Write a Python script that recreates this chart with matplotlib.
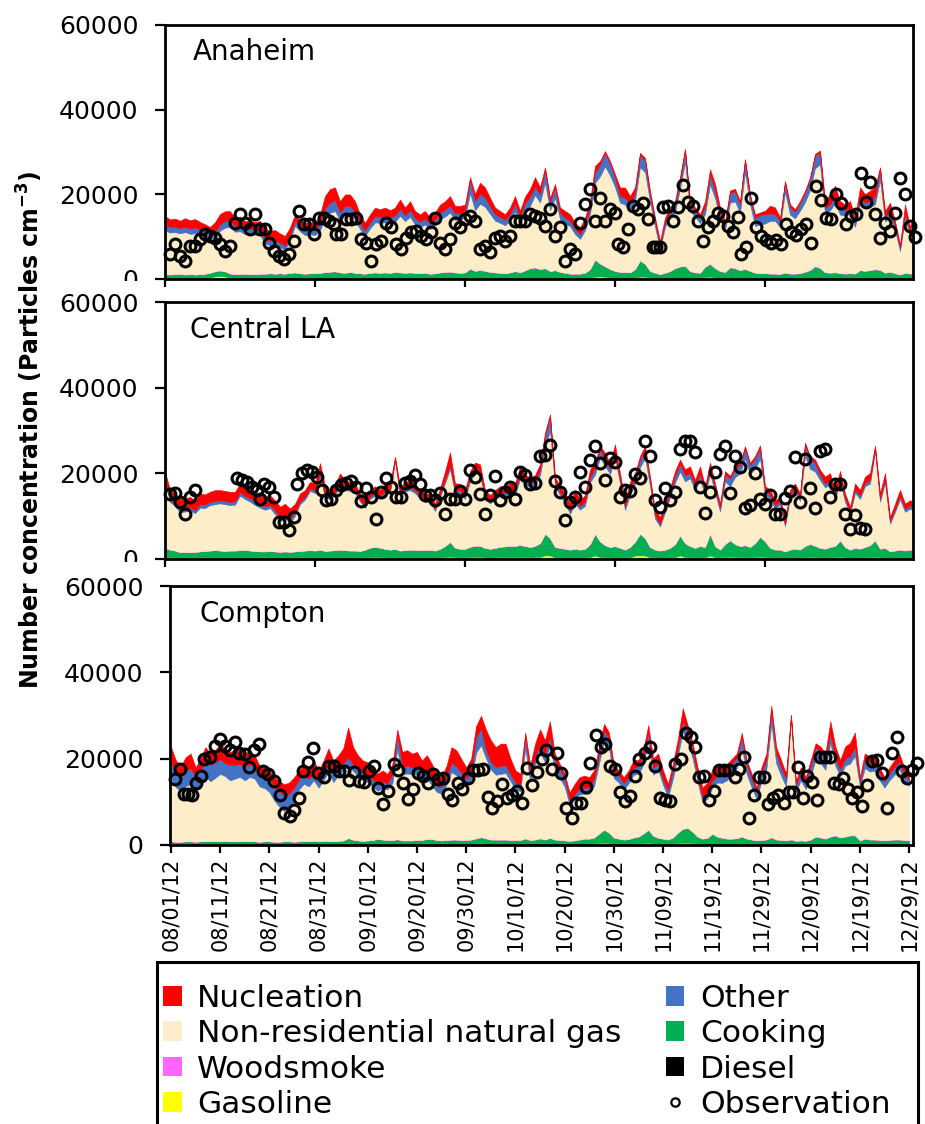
import numpy as np
import matplotlib
matplotlib.use("Agg")
import matplotlib.pyplot as plt
from matplotlib.patches import Patch, Rectangle
from matplotlib.lines import Line2D

# ---------------------------------------------------------------
# Daily source contributions (thousand particles cm^-3),
# day 0 = 08/01/12 ... day 150 = 12/29/12
# ---------------------------------------------------------------
tick_labels = ["08/01/12", "08/11/12", "08/21/12", "08/31/12", "09/10/12", "09/20/12",
               "09/30/12", "10/10/12", "10/20/12", "10/30/12", "11/09/12", "11/19/12",
               "11/29/12", "12/09/12", "12/19/12", "12/29/12"]
tick_days = [0, 10, 20, 30, 40, 50, 60, 70, 80, 90, 100, 110, 120, 130, 140, 150]

series_names = ["Nucleation", "Non-residential natural gas", "Woodsmoke", "Gasoline",
                "Other", "Cooking", "Diesel"]

# ----------------------------- Anaheim -----------------------------
anaheim_nucleation = [
    2.0, 1.8, 2.0, 1.7, 2.1, 1.9, 2.0, 1.8, 1.9, 1.6,
    2.2, 2.4, 2.3, 2.2, 2.0, 2.1, 1.9, 2.0, 1.8, 2.0,
    2.2, 2.3, 2.4, 2.2, 2.3, 1.8, 1.5, 1.6, 1.7, 1.8,
    1.7, 2.2, 3.0, 3.2, 3.0, 2.6, 2.8, 2.7, 2.5, 2.0,
    1.8, 1.9, 2.0, 1.8, 2.0, 1.7, 1.9, 2.2, 1.8, 2.1,
    1.8, 1.7, 1.8, 1.5, 1.7, 1.9, 2.0, 2.2, 1.8, 1.7,
    1.5, 0.6, 1.6, 2.6, 2.4, 2.0, 1.6, 1.4, 1.3, 1.6,
    1.8, 1.4, 1.6, 1.8, 2.2, 1.6, 0.6, 1.0, 0.8, 1.2,
    1.6, 1.5, 1.5, 1.6, 1.8, 1.5, 1.6, 0.8, 0.4, 0.6,
    0.8, 2.0, 2.4, 1.8, 1.4, 0.4, 0.6, 1.0, 1.0, 1.2,
    1.0, 1.2, 1.0, 0.6, 0.3, 0.8, 0.8, 0.8, 1.4, 1.2,
    1.6, 1.4, 1.0, 0.5, 0.6, 0.8, 0.3, 0.6, 0.8, 0.6,
    0.8, 1.8, 1.6, 0.8, 0.4, 0.6, 0.6, 0.5, 0.5, 0.4,
    0.4, 0.5, 1.6, 2.4, 2.6, 1.8, 1.4, 1.6, 1.0, 2.2,
    2.0, 2.4, 2.2, 0.4, 1.4, 2.0, 1.2, 0.8, 2.0, 1.0, 1.8]
anaheim_other = [
    1.4, 1.3, 1.2, 1.3, 1.2, 1.3, 1.4, 1.2, 1.1, 1.2,
    1.4, 1.5, 1.6, 1.5, 1.3, 1.4, 1.2, 1.3, 1.2, 1.3,
    1.2, 1.1, 1.2, 1.1, 1.0, 1.1, 1.2, 1.1, 1.2, 1.1,
    1.2, 1.6, 2.2, 2.4, 2.6, 2.0, 2.2, 2.1, 1.8, 1.5,
    1.3, 1.4, 1.5, 1.4, 1.5, 1.4, 1.5, 1.6, 1.4, 1.6,
    1.4, 1.3, 1.4, 1.2, 1.3, 1.5, 1.6, 1.7, 1.5, 1.5,
    1.6, 3.2, 2.2, 2.4, 2.2, 1.8, 1.5, 1.4, 1.3, 1.5,
    1.8, 1.5, 2.0, 2.2, 2.0, 2.0, 3.0, 2.0, 2.4, 1.6,
    1.4, 1.3, 1.2, 1.1, 1.2, 1.6, 2.4, 2.8, 3.2, 2.8,
    2.2, 1.6, 1.6, 1.5, 1.8, 3.0, 2.8, 1.6, 1.2, 0.8,
    1.2, 1.4, 1.6, 2.2, 2.8, 1.5, 1.4, 1.3, 1.6, 2.4,
    1.8, 1.4, 1.2, 2.4, 2.4, 2.0, 2.8, 1.8, 2.0, 2.2,
    2.2, 1.8, 1.6, 1.4, 2.2, 1.8, 1.6, 1.8, 2.2, 2.6,
    3.0, 2.8, 1.4, 1.4, 1.6, 1.4, 1.3, 1.4, 1.2, 1.6,
    1.4, 1.5, 1.8, 2.6, 1.2, 1.2, 1.0, 0.8, 1.2, 1.0, 1.2]
anaheim_natgas = [
    10.3, 9.9, 9.9, 9.5, 10.0, 9.5, 9.7, 9.3, 8.7, 8.0,
    8.0, 9.4, 10.3, 11.0, 10.0, 10.1, 9.3, 9.4, 9.3, 9.1,
    7.1, 6.6, 6.7, 6.1, 5.6, 7.8, 11.0, 9.9, 9.1, 9.2,
    9.0, 10.0, 12.8, 13.9, 14.2, 12.2, 13.5, 13.5, 12.6, 10.4,
    8.9, 10.5, 11.8, 11.8, 11.8, 11.7, 11.8, 13.4, 12.2, 13.1,
    11.4, 10.9, 11.4, 10.5, 11.3, 12.6, 13.1, 13.9, 12.4, 12.6,
    12.9, 17.8, 14.3, 15.6, 15.1, 13.7, 12.2, 11.8, 11.3, 12.2,
    14.1, 11.6, 13.8, 14.7, 17.1, 15.7, 20.2, 14.3, 17.1, 12.4,
    11.6, 11.2, 9.3, 8.2, 10.0, 13.0, 18.1, 20.6, 23.6, 22.1,
    19.8, 16.3, 15.9, 14.7, 16.1, 22.0, 21.6, 16.3, 10.8, 5.8,
    10.8, 12.4, 13.3, 18.3, 24.5, 14.2, 13.1, 11.7, 12.4, 18.7,
    16.5, 12.2, 9.8, 15.2, 15.7, 13.5, 22.8, 15.7, 11.0, 11.5,
    11.7, 12.4, 12.4, 11.1, 19.0, 13.9, 13.0, 14.7, 16.4, 18.8,
    23.1, 24.4, 13.8, 14.7, 16.2, 13.8, 13.6, 14.0, 11.0, 15.7,
    14.7, 14.8, 15.3, 21.2, 12.0, 13.1, 10.1, 5.5, 12.9, 8.9, 13.1]
anaheim_cooking = [
    0.9, 0.8, 0.9, 1.0, 0.8, 0.9, 0.8, 0.9, 1.0, 1.1,
    1.2, 1.3, 1.2, 1.0, 0.9, 0.9, 1.0, 0.9, 0.9, 1.0,
    1.0, 1.1, 1.0, 1.1, 1.0, 1.2, 1.3, 1.1, 1.0, 1.1,
    1.1, 1.2, 1.3, 1.4, 1.5, 1.3, 1.2, 1.4, 1.2, 1.1,
    1.0, 1.2, 1.3, 1.2, 1.3, 1.2, 1.4, 1.3, 1.2, 1.3,
    1.2, 1.1, 1.2, 1.0, 1.1, 1.3, 1.4, 1.5, 1.3, 1.2,
    1.3, 2.0, 1.6, 1.8, 1.6, 1.4, 1.3, 1.2, 1.1, 1.3,
    1.6, 1.3, 1.8, 2.2, 2.4, 2.0, 2.2, 1.6, 1.8, 1.4,
    1.2, 1.0, 1.0, 1.0, 1.2, 2.0, 4.0, 3.0, 2.4, 2.0,
    1.6, 1.4, 1.4, 1.3, 2.0, 3.8, 3.0, 1.6, 1.2, 0.9,
    1.2, 1.6, 2.2, 2.6, 2.7, 1.6, 1.3, 1.2, 2.4, 3.0,
    2.2, 1.6, 1.4, 2.4, 2.2, 1.8, 2.0, 1.6, 1.2, 1.1,
    1.1, 1.0, 1.0, 0.9, 1.2, 1.0, 1.0, 1.1, 1.4, 1.8,
    2.6, 2.2, 1.3, 1.2, 1.3, 1.1, 1.0, 1.1, 1.0, 1.8,
    1.6, 1.8, 2.0, 1.8, 1.2, 1.4, 1.1, 0.8, 1.2, 1.0, 1.2]
anaheim_gasoline = [
    .15, .15, .15, .15, .15, .15, .15, .15, .15, .25,
    .50, .60, .50, .20, .15, .15, .15, .15, .15, .15,
    .15, .15, .15, .15, .15, .15, .15, .15, .15, .15,
    .15, .15, .20, .20, .20, .15, .15, .15, .15, .15,
    .15, .15, .15, .15, .15, .15, .15, .15, .15, .15,
    .15, .15, .15, .15, .15, .15, .15, .15, .15, .15,
    .15, .30, .20, .20, .20, .15, .15, .15, .15, .15,
    .15, .15, .15, .20, .20, .20, .20, .15, .15, .15,
    .15, .15, .15, .15, .15, .20, .40, .45, .40, .20,
    .15, .15, .15, .15, .20, .40, .40, .15, .15, .15,
    .15, .15, .20, .20, .20, .15, .15, .15, .35, .40,
    .20, .15, .15, .20, .20, .15, .20, .15, .15, .15,
    .15, .15, .15, .15, .15, .15, .15, .15, .15, .15,
    .20, .20, .15, .15, .15, .15, .15, .15, .15, .15,
    .15, .15, .15, .15, .15, .15, .15, .15, .15, .15, .15]
anaheim_diesel = [
    .10, .10, .10, .10, .10, .10, .10, .10, .10, .12,
    .12, .12, .10, .10, .10, .10, .10, .10, .10, .10,
    .10, .10, .10, .10, .10, .10, .10, .10, .10, .10,
    .10, .10, .12, .12, .12, .10, .10, .10, .10, .10,
    .10, .10, .10, .10, .10, .10, .10, .10, .10, .10,
    .10, .10, .10, .10, .10, .10, .10, .10, .10, .10,
    .10, .14, .12, .12, .12, .10, .10, .10, .10, .10,
    .10, .10, .10, .12, .12, .12, .14, .10, .12, .10,
    .10, .10, .10, .10, .10, .12, .16, .16, .16, .12,
    .12, .10, .10, .10, .12, .16, .16, .12, .10, .08,
    .10, .10, .12, .14, .16, .10, .10, .10, .14, .16,
    .14, .10, .10, .14, .14, .12, .14, .12, .10, .10,
    .10, .10, .10, .10, .12, .10, .10, .10, .12, .14,
    .16, .16, .10, .10, .10, .10, .10, .10, .10, .12,
    .12, .12, .12, .14, .10, .10, .10, .08, .10, .10, .10]
anaheim_woodsmoke = [
    .02, .02, .02, .02, .02, .02, .02, .02, .02, .02,
    .02, .02, .02, .02, .02, .02, .02, .02, .02, .02,
    .02, .02, .02, .02, .02, .02, .02, .02, .02, .02,
    .02, .02, .02, .02, .02, .02, .02, .02, .02, .02,
    .02, .02, .02, .02, .02, .02, .02, .02, .02, .02,
    .02, .02, .02, .02, .02, .02, .02, .02, .02, .02,
    .03, .03, .03, .03, .03, .03, .03, .03, .03, .03,
    .04, .04, .04, .04, .04, .04, .04, .04, .04, .04,
    .04, .04, .04, .04, .04, .05, .06, .06, .06, .05,
    .05, .05, .05, .05, .05, .06, .06, .05, .05, .04,
    .05, .05, .06, .06, .07, .05, .05, .05, .06, .07,
    .06, .06, .05, .07, .07, .06, .08, .07, .06, .06,
    .06, .07, .07, .06, .08, .07, .07, .07, .08, .09,
    .10, .10, .07, .08, .08, .07, .07, .07, .06, .08,
    .08, .08, .08, .10, .07, .07, .06, .05, .07, .06, .07]

anaheim_obs_day = [
    1, 2, 3, 4, 5, 6, 7, 8, 9, 10, 11, 12, 13, 14, 15, 16, 17, 18, 19, 20,
    20.7, 21.7, 22.7, 23.7, 24.7, 25.7, 26.7, 27.7, 28.7, 29.7, 30.7, 31.7, 32.7, 33.7,
    34.3, 35.3, 36.3, 37.3, 38.3, 39.3, 40.3, 41.3, 42.3, 43.3, 44.3, 45.3, 46.3, 47.3,
    48.3, 49.3, 50.3, 51.3, 52.3, 53.3, 54, 55, 56, 57, 58, 59, 60, 61, 62, 63, 64, 65,
    66, 67, 68, 69, 70, 71, 72,
    73, 74, 75, 76, 77, 78, 79, 80, 81, 82, 83, 84, 85, 86, 87, 88, 89, 90,
    90.6, 91.6, 92.6, 93.6, 94.6, 95.6, 96.6, 97.6, 98.3, 99.0, 99.6,
    100.6, 101.6, 102.6, 103.6, 104.6, 105.6, 106.6, 107.6, 108.6, 109.6, 110.6, 111.6,
    112.6, 113.6, 114.6, 115.3, 116.3, 117.3, 118.3, 119.3, 120.3, 121.3, 122.3, 123.3,
    124.3, 125.3, 126.3, 127.3, 128.3, 129.3, 130.3, 131.3, 132.3, 133.3, 134.3, 135.3,
    136.3, 137.3, 138.3, 139.3, 140.3, 141, 142, 143, 144, 145, 146, 147, 148, 149, 150]
anaheim_obs = [
    5.9, 8.2, 5.5, 4.3, 7.8, 7.8, 9.4, 10.6, 10.2, 9.8, 8.2, 6.7, 7.8, 13.3, 15.3, 13.3,
    11.8, 15.3, 11.8, 11.8, 8.6, 6.7, 5.5, 4.7, 5.9, 9.0, 16.1, 12.9, 12.9, 10.6, 14.5,
    14.5, 13.7, 12.9, 10.6, 10.6, 14.1, 14.1, 14.4, 9.4, 8.6, 4.3, 8.2, 9.0, 13.3, 12.2,
    8.2, 7.1, 9.8, 11.0, 11.4, 10.2, 9.4, 11.0, 14.5, 8.6, 7.1, 9.4, 13.3, 12.2, 14.1,
    14.9, 13.7, 7.1, 7.8, 6.3, 9.8, 10.2, 9.0, 10.2, 13.7, 13.7, 13.7,
    15.3, 14.9, 14.5, 12.5, 16.5, 10.2, 12.2, 4.3, 7.1, 6.0, 13.3, 17.6, 21.2, 13.7,
    19.2, 13.6, 16.5, 15.5, 8.2, 7.5, 11.8, 17.3, 16.5, 18.0, 14.1, 7.5, 7.5, 7.5, 16.9,
    17.3, 13.7, 17.0, 22.2, 18.3, 17.3, 13.6, 9.0, 12.2, 13.7, 15.5, 14.9, 12.5, 11.2,
    14.7, 6.0, 7.5, 19.2, 12.3, 10.2, 9.2, 8.6, 9.2, 8.2, 13.1, 11.2, 10.4, 11.8, 12.9,
    8.6, 22.0, 18.6, 14.4, 14.1, 20.0, 18.0, 12.9, 14.9, 15.3, 25.1, 18.3, 22.9, 15.3,
    9.6, 13.3, 11.4, 15.5, 23.8, 20.0, 12.5, 10.0]

# ----------------------------- Central LA -----------------------------
centralla_nucleation = [
    1.5, 2.0, 2.2, 2.4, 2.3, 2.4, 2.3, 2.5, 2.4, 2.4,
    2.5, 2.4, 2.3, 2.4, 2.2, 2.0, 2.2, 2.3, 2.4, 2.2,
    2.2, 2.3, 2.4, 2.5, 2.6, 2.4, 2.0, 1.8, 1.6, 1.5,
    1.6, 2.6, 1.8, 1.6, 1.8, 2.0, 1.6, 1.5, 1.5, 1.4,
    1.3, 1.5, 1.6, 1.5, 1.6, 1.5, 0.5, 1.4, 1.5, 1.6,
    1.5, 1.4, 1.4, 1.5, 1.2, 1.4, 2.0, 3.0, 1.6, 1.5,
    1.4, 1.2, 1.6, 1.8, 1.5, 1.3, 1.5, 1.6, 1.5, 1.6,
    1.6, 2.0, 1.5, 1.4, 1.5, 1.4, 0.8, 0.6, 1.2, 1.3,
    1.4, 1.6, 2.2, 1.4, 1.6, 1.8, 1.2, 0.8, 1.6, 1.4,
    2.4, 1.4, 1.4, 1.8, 1.2, 0.8, 0.8, 1.0, 1.2, 1.6,
    1.2, 1.0, 1.2, 1.0, 1.4, 1.6, 1.4, 1.8, 1.2, 1.0,
    1.2, 1.0, 0.8, 0.6, 0.6, 0.5, 0.5, 0.6, 0.6, 0.5,
    1.0, 1.2, 1.2, 1.0, 0.8, 1.0, 1.2, 1.0, 0.5, 0.6,
    0.8, 1.2, 1.6, 1.8, 1.4, 1.6, 1.2, 1.0, 1.4, 1.3,
    1.4, 1.6, 0.5, 1.2, 1.4, 1.0, 1.2, 1.4, 1.2, 1.2, 1.2]
centralla_other = [
    0.8, 0.8, 0.7, 0.8, 0.7, 0.8, 0.7, 0.8, 0.8, 0.7,
    0.8, 0.7, 0.8, 0.7, 0.8, 0.8, 0.7, 0.8, 0.7, 0.7,
    0.8, 0.7, 0.8, 0.9, 0.8, 0.9, 0.8, 0.7, 0.6, 0.6,
    0.6, 0.8, 0.6, 0.6, 0.6, 0.8, 0.7, 0.6, 0.6, 0.5,
    0.5, 0.6, 0.6, 0.6, 0.7, 0.6, 0.6, 0.6, 0.7, 0.7,
    0.7, 0.6, 0.6, 0.6, 0.5, 0.6, 0.8, 0.9, 0.7, 0.7,
    0.7, 1.2, 0.9, 0.8, 0.7, 0.6, 0.7, 0.7, 0.7, 0.8,
    0.8, 1.0, 0.9, 0.8, 0.9, 1.2, 2.8, 3.2, 1.0, 0.8,
    0.8, 0.8, 1.0, 0.8, 0.9, 1.2, 1.6, 2.0, 1.4, 1.2,
    0.8, 1.0, 0.9, 1.2, 1.4, 1.8, 2.0, 1.2, 0.8, 0.6,
    0.8, 1.2, 1.5, 1.8, 1.4, 1.2, 1.0, 1.2, 1.0, 1.6,
    1.0, 0.8, 1.6, 1.8, 2.0, 2.0, 2.4, 2.0, 2.4, 2.6,
    1.0, 0.8, 0.8, 0.8, 0.6, 0.8, 0.9, 0.8, 2.6, 2.4,
    2.0, 1.2, 0.9, 0.9, 0.8, 0.9, 0.8, 0.7, 0.8, 0.8,
    0.8, 0.9, 0.8, 0.8, 0.9, 0.6, 0.7, 0.8, 0.7, 0.8, 0.7]
centralla_natgas = [
    15.5, 11.1, 10.4, 9.3, 9.4, 9.7, 9.0, 10.2, 10.0, 10.6,
    10.7, 11.0, 10.9, 10.6, 10.7, 12.7, 11.8, 11.4, 10.7, 10.2,
    9.7, 10.0, 8.7, 7.1, 7.7, 6.8, 8.3, 10.9, 11.9, 13.8,
    13.4, 16.8, 12.6, 11.9, 12.8, 15.0, 14.0, 13.9, 13.5, 11.5,
    9.7, 11.4, 11.9, 11.4, 12.9, 13.3, 20.4, 12.9, 13.7, 13.9,
    13.2, 12.0, 11.2, 11.0, 9.2, 12.1, 14.6, 17.0, 12.7, 13.0,
    11.6, 15.2, 16.9, 16.4, 11.3, 10.6, 11.3, 11.8, 11.8, 12.2,
    12.1, 15.3, 14.2, 14.0, 14.1, 15.8, 20.0, 25.1, 14.2, 12.2,
    10.7, 8.3, 10.5, 9.3, 10.0, 14.4, 13.8, 19.5, 18.5, 17.0,
    20.5, 15.0, 9.2, 12.2, 13.4, 15.5, 18.7, 14.2, 7.2, 5.6,
    8.7, 11.7, 14.3, 14.9, 14.4, 15.8, 13.4, 15.6, 11.9, 14.0,
    12.4, 8.9, 14.6, 12.6, 15.6, 16.9, 20.2, 17.0, 17.3, 18.2,
    10.9, 11.5, 9.5, 10.5, 5.8, 12.1, 13.1, 11.3, 21.0, 17.5,
    17.3, 15.8, 14.3, 14.5, 10.9, 13.7, 10.5, 8.3, 12.8, 11.6,
    14.2, 14.3, 20.8, 10.9, 15.1, 6.4, 9.0, 11.7, 9.0, 9.5, 9.1]
centralla_cooking = [
    2.2, 1.8, 1.6, 1.2, 1.3, 1.2, 1.3, 1.4, 1.5, 1.6,
    1.7, 1.6, 1.5, 1.6, 1.6, 1.7, 1.8, 1.6, 1.5, 1.4,
    1.4, 1.5, 1.4, 1.3, 1.4, 1.3, 1.4, 1.5, 1.6, 1.7,
    1.6, 1.8, 1.5, 1.6, 1.7, 1.8, 1.7, 1.6, 1.6, 1.5,
    1.8, 2.2, 2.4, 2.2, 2.0, 1.8, 2.0, 1.6, 1.7, 1.8,
    1.8, 1.7, 1.7, 1.8, 1.6, 2.0, 2.6, 3.4, 2.2, 2.0,
    2.0, 2.4, 2.6, 2.6, 2.2, 2.0, 2.2, 2.4, 2.5, 2.6,
    2.6, 2.8, 2.6, 2.4, 2.6, 3.2, 5.0, 4.0, 2.4, 2.2,
    2.0, 1.8, 2.0, 1.8, 2.0, 3.0, 5.0, 3.6, 2.8, 2.4,
    2.6, 2.2, 1.8, 2.4, 3.2, 5.0, 4.0, 2.4, 1.8, 1.6,
    1.8, 2.2, 3.0, 4.6, 3.2, 2.6, 2.2, 2.6, 2.4, 5.0,
    2.6, 1.8, 3.0, 3.8, 3.0, 2.6, 2.8, 2.4, 3.2, 4.6,
    3.6, 2.2, 1.8, 1.8, 1.4, 1.8, 2.0, 1.8, 2.6, 3.0,
    2.6, 2.2, 2.0, 2.4, 2.6, 3.8, 2.4, 1.8, 2.2, 2.0,
    2.4, 2.8, 3.8, 2.0, 2.2, 1.4, 1.6, 1.8, 1.6, 1.8, 1.6]
centralla_gasoline = [
    .25, .25, .25, .25, .25, .25, .25, .25, .25, .25,
    .25, .25, .25, .25, .25, .25, .25, .25, .25, .25,
    .25, .25, .25, .25, .25, .25, .25, .25, .25, .25,
    .25, .25, .25, .25, .25, .25, .25, .25, .25, .25,
    .25, .30, .30, .30, .25, .25, .25, .25, .25, .25,
    .25, .25, .25, .25, .25, .25, .30, .40, .30, .25,
    .25, .30, .35, .35, .25, .25, .25, .30, .30, .30,
    .30, .30, .30, .25, .30, .35, .65, .65, .25, .25,
    .25, .25, .25, .25, .25, .30, .65, .30, .25, .25,
    .25, .25, .25, .25, .65, .65, .65, .25, .25, .25,
    .25, .25, .30, .65, .30, .25, .25, .25, .25, .65,
    .25, .25, .30, .35, .30, .25, .25, .25, .30, .35,
    .30, .25, .25, .25, .25, .25, .25, .25, .25, .30,
    .30, .25, .25, .25, .25, .30, .25, .25, .25, .25,
    .25, .25, .30, .25, .25, .25, .25, .25, .25, .25, .25]
centralla_diesel = [
    .12, .12, .12, .12, .12, .12, .12, .12, .12, .12,
    .12, .12, .12, .12, .12, .12, .12, .12, .12, .12,
    .12, .12, .12, .12, .12, .12, .12, .12, .12, .12,
    .12, .12, .12, .12, .12, .12, .12, .12, .12, .12,
    .12, .14, .14, .14, .12, .12, .12, .12, .12, .12,
    .12, .12, .12, .12, .12, .12, .14, .16, .14, .12,
    .12, .14, .14, .14, .12, .12, .12, .14, .14, .14,
    .14, .14, .14, .12, .14, .14, .20, .18, .12, .12,
    .12, .12, .12, .12, .12, .14, .20, .16, .14, .12,
    .14, .12, .12, .12, .16, .20, .18, .12, .12, .10,
    .12, .12, .14, .20, .16, .14, .12, .14, .12, .20,
    .14, .12, .14, .18, .14, .14, .14, .12, .16, .20,
    .18, .12, .12, .12, .10, .12, .12, .12, .14, .16,
    .14, .12, .12, .12, .14, .18, .12, .10, .12, .12,
    .12, .14, .18, .12, .12, .10, .10, .12, .10, .12, .10]
centralla_woodsmoke = [
    .02, .02, .02, .02, .02, .02, .02, .02, .02, .02,
    .02, .02, .02, .02, .02, .02, .02, .02, .02, .02,
    .02, .02, .02, .02, .02, .02, .02, .02, .02, .02,
    .02, .02, .02, .02, .02, .02, .02, .02, .02, .02,
    .02, .02, .02, .02, .02, .02, .02, .02, .02, .02,
    .02, .02, .02, .02, .02, .02, .03, .03, .02, .02,
    .03, .03, .03, .03, .03, .03, .03, .03, .03, .03,
    .04, .04, .04, .04, .04, .05, .07, .07, .04, .04,
    .04, .04, .04, .04, .04, .05, .07, .06, .05, .05,
    .05, .05, .04, .05, .06, .07, .07, .05, .04, .04,
    .04, .05, .06, .07, .06, .05, .05, .05, .05, .07,
    .06, .05, .06, .07, .07, .06, .07, .07, .07, .08,
    .08, .06, .06, .06, .05, .06, .06, .06, .08, .08,
    .08, .07, .07, .07, .07, .08, .07, .06, .07, .07,
    .07, .08, .09, .07, .07, .05, .06, .07, .06, .06, .06]

centralla_obs_day = [
    1, 2, 3, 4, 5, 6, 14.3, 15.3, 16.3, 17.3, 18.3, 19.0, 19.7, 20.7, 21.7, 22.7, 23.7,
    24.7, 25.7, 26.3, 27.3, 28.3, 29.3, 30.3, 31.3, 32.3, 33.3, 34.3, 35.3, 36.3, 37.3,
    38.3, 39.3, 40.3, 41.3, 42.3, 43.3, 44.3, 45.3, 46.3, 47.3, 48, 49, 50, 51, 52, 53,
    54, 55, 56, 57, 58, 59, 60, 61, 62, 63, 64, 65, 66, 67, 68, 69, 70,
    71, 72, 73, 74, 75, 76, 77, 78, 79, 80, 81, 82, 83, 84, 85, 86, 87, 88, 89, 90,
    91, 92, 93, 94, 95, 96, 97, 98, 99, 100, 101, 102, 103, 104, 105, 106, 107, 108,
    109, 110, 111, 112, 113, 114, 115, 116, 117, 118, 119, 120, 121, 122, 123, 124,
    125, 126, 127, 128, 129, 130, 131, 132, 133, 134, 135, 136, 137, 138, 139, 140]
centralla_obs = [
    15.1, 15.5, 13.3, 10.6, 14.5, 16.2, 18.8, 18.4, 18.0, 16.9, 16.2, 13.9, 17.5, 16.9,
    14.4, 8.6, 8.6, 6.8, 9.8, 17.6, 20.0, 20.8, 20.2, 19.2, 16.1, 13.7, 14.1, 16.1, 17.3,
    17.8, 18.3, 16.9, 13.6, 16.5, 14.5, 9.4, 15.7, 18.8, 16.9, 14.4, 14.4, 17.8, 18.3,
    19.6, 17.5, 14.9, 14.9, 13.7, 15.3, 10.4, 13.9, 13.9, 15.9, 14.1, 20.8, 19.2, 15.1,
    10.4, 14.9, 19.4, 13.7, 15.7, 16.9, 13.9,
    20.4, 19.6, 17.6, 17.8, 24.1, 24.3, 26.7, 18.2, 15.7, 9.2,
    13.3, 14.4, 20.4, 16.9, 23.0, 26.4, 22.4, 18.4, 23.5, 22.7,
    14.4, 16.2, 15.9, 19.8, 18.8, 27.5, 24.1, 13.7, 12.2, 16.5,
    13.7, 15.7, 25.6, 27.5, 27.5, 24.9, 16.7, 10.7, 15.7, 20.4,
    24.6, 26.3, 15.5, 24.1, 21.5, 11.8, 12.5, 20.0, 14.1, 12.9,
    14.9, 10.4, 10.4, 14.3, 15.9, 23.9, 13.3, 23.3, 16.5, 11.8,
    25.1, 25.6, 14.4, 17.5, 17.5, 10.6, 7.1, 10.2, 7.3, 6.9]

# ----------------------------- Compton -----------------------------
compton_nucleation = [
    3.5, 2.8, 2.5, 3.2, 3.4, 2.2, 2.6, 3.2, 2.6, 2.8,
    3.6, 3.4, 3.0, 3.4, 3.6, 3.0, 3.2, 2.8, 2.6, 2.4,
    2.0, 2.2, 2.4, 2.6, 2.6, 2.4, 2.0, 2.2, 2.6, 2.8,
    2.4, 2.8, 3.6, 2.6, 3.0, 3.4, 7.0, 4.0, 3.2, 2.8,
    3.0, 2.8, 2.4, 2.6, 2.2, 2.4, 1.0, 3.4, 3.6, 3.2,
    3.4, 3.0, 3.6, 3.2, 2.6, 2.2, 2.6, 3.6, 3.8, 3.2,
    2.6, 2.8, 2.6, 3.0, 4.6, 5.0, 4.6, 5.2, 5.0, 3.6,
    2.8, 2.4, 0.8, 2.2, 3.0, 3.4, 3.2, 3.6, 1.4, 1.2,
    1.0, 1.6, 2.4, 2.6, 2.8, 2.4, 2.0, 1.8, 1.6, 1.4,
    1.4, 1.2, 1.4, 1.6, 1.8, 1.4, 1.4, 1.6, 2.2, 2.4,
    2.2, 1.4, 1.6, 1.8, 3.0, 1.8, 1.6, 2.0, 2.2, 2.4,
    2.6, 2.4, 2.2, 1.8, 1.0, 1.0, 0.8, 1.0, 1.2, 1.0,
    1.2, 1.4, 1.0, 1.6, 1.6, 1.2, 0.4, 1.0, 1.0, 1.0,
    1.2, 1.0, 1.2, 1.4, 3.0, 2.6, 2.2, 2.8, 3.0, 3.4,
    1.0, 1.2, 1.4, 1.6, 1.2, 1.0, 1.4, 1.6, 1.8, 1.6, 1.4]
compton_other = [
    3.6, 3.4, 3.4, 3.5, 3.6, 3.3, 3.5, 3.6, 3.8, 3.6,
    3.4, 3.0, 3.6, 3.2, 3.0, 3.2, 3.0, 2.6, 2.2, 2.4,
    3.0, 3.2, 3.6, 3.6, 3.4, 3.0, 2.4, 2.0, 1.8, 1.8,
    1.6, 1.8, 1.8, 2.4, 1.6, 1.8, 1.8, 1.6, 1.6, 1.8,
    1.6, 1.6, 1.6, 1.4, 1.4, 2.0, 3.6, 1.8, 1.8, 1.6,
    1.8, 1.6, 1.8, 1.8, 1.6, 1.6, 1.8, 2.2, 2.0, 1.8,
    1.6, 2.0, 3.6, 3.8, 2.0, 1.8, 1.8, 1.8, 1.8, 1.6,
    1.6, 1.6, 2.8, 1.6, 1.8, 2.0, 1.8, 2.2, 2.2, 2.0,
    2.0, 1.2, 1.2, 1.4, 1.4, 1.4, 1.6, 2.2, 2.4, 2.2,
    1.6, 1.6, 1.4, 1.4, 1.6, 1.8, 2.2, 2.2, 1.6, 1.4,
    1.2, 1.6, 2.0, 2.2, 2.4, 2.2, 2.0, 1.4, 1.2, 1.4,
    1.6, 1.6, 1.8, 2.0, 2.2, 2.4, 2.6, 2.2, 2.0, 1.6,
    2.0, 2.2, 3.2, 2.2, 2.0, 1.8, 0.8, 1.6, 2.0, 1.8,
    2.4, 2.8, 2.6, 2.4, 2.0, 1.8, 1.6, 1.6, 1.8, 2.0,
    1.2, 2.2, 2.0, 2.0, 1.8, 1.4, 1.6, 1.8, 1.8, 1.6, 1.4]
compton_natgas = [
    14.7, 12.6, 11.7, 12.8, 13.3, 11.7, 13.0, 15.0, 13.8, 14.7,
    15.6, 15.0, 14.1, 14.5, 14.9, 14.0, 14.9, 14.5, 12.8, 12.3,
    11.4, 9.5, 8.1, 7.0, 7.6, 9.5, 12.0, 13.3, 12.6, 14.0,
    12.4, 14.0, 16.0, 13.7, 15.2, 16.1, 16.8, 15.9, 14.9, 14.0,
    13.5, 12.4, 11.1, 12.0, 11.7, 13.2, 20.8, 15.3, 15.5, 15.3,
    15.2, 13.8, 14.0, 12.4, 11.1, 10.8, 12.8, 15.6, 14.9, 13.8,
    12.6, 13.9, 19.8, 21.3, 18.6, 16.2, 15.0, 15.2, 15.4, 13.6,
    11.7, 11.3, 20.9, 13.5, 17.4, 19.8, 18.0, 21.2, 16.3, 14.4,
    12.4, 8.4, 9.4, 10.4, 10.4, 10.4, 12.0, 16.2, 20.5, 19.6,
    13.7, 13.0, 11.6, 12.9, 14.5, 14.5, 15.9, 20.4, 14.1, 15.7,
    12.4, 9.8, 13.5, 17.6, 22.5, 19.8, 17.0, 12.7, 8.4, 9.0,
    10.6, 12.5, 12.7, 13.5, 15.3, 16.2, 20.6, 14.9, 12.0, 9.6,
    13.6, 16.3, 26.3, 17.6, 14.8, 12.4, 27.7, 11.3, 13.9, 11.9,
    14.7, 17.8, 17.2, 15.9, 21.7, 16.2, 14.1, 16.4, 16.6, 18.4,
    12.4, 16.3, 15.7, 15.9, 13.8, 12.2, 13.8, 14.9, 16.3, 13.6, 12.6]
compton_cooking = [
    0.6, 0.5, 0.5, 0.6, 0.6, 0.5, 0.6, 0.6, 0.7, 0.6,
    0.6, 0.7, 0.6, 0.6, 0.6, 0.7, 0.6, 0.6, 0.5, 0.6,
    0.6, 0.5, 0.5, 0.6, 0.6, 0.5, 0.6, 0.6, 0.7, 0.7,
    0.6, 0.7, 0.7, 0.6, 0.7, 0.8, 1.2, 0.9, 0.8, 0.7,
    0.8, 0.9, 1.1, 1.0, 0.9, 0.9, 1.0, 0.8, 0.8, 0.8,
    0.9, 0.9, 1.1, 1.1, 0.9, 0.8, 0.9, 1.0, 1.0, 0.9,
    0.9, 1.0, 1.2, 1.4, 1.2, 1.0, 1.0, 1.0, 1.0, 0.9,
    0.9, 0.9, 1.2, 0.9, 1.0, 1.2, 1.0, 1.3, 1.0, 0.9,
    0.8, 0.7, 0.8, 1.0, 1.2, 1.2, 1.4, 2.2, 3.0, 2.4,
    1.4, 1.2, 1.0, 1.1, 1.4, 1.6, 2.2, 3.0, 1.8, 1.4,
    1.2, 1.0, 1.4, 2.4, 3.2, 3.4, 2.6, 1.6, 1.2, 1.4,
    2.2, 1.6, 1.4, 1.2, 1.2, 1.3, 1.6, 1.2, 1.0, 0.8,
    0.9, 1.0, 1.4, 1.0, 0.9, 0.8, 1.0, 0.7, 0.8, 0.7,
    1.0, 1.6, 1.4, 1.2, 1.6, 1.8, 1.4, 1.6, 1.8, 1.8,
    0.8, 1.2, 1.0, 1.0, 0.9, 0.8, 0.9, 1.0, 1.0, 0.9, 0.8]
compton_gasoline = [
    .15, .15, .15, .15, .15, .15, .15, .15, .15, .15,
    .15, .15, .15, .15, .15, .15, .15, .15, .15, .15,
    .15, .15, .15, .15, .15, .15, .15, .15, .15, .15,
    .15, .15, .15, .15, .15, .15, .25, .20, .15, .15,
    .15, .15, .20, .15, .15, .15, .20, .15, .15, .15,
    .15, .15, .20, .20, .15, .15, .15, .15, .15, .15,
    .15, .15, .20, .25, .20, .15, .15, .15, .15, .15,
    .15, .15, .20, .15, .15, .20, .15, .20, .15, .15,
    .15, .15, .15, .15, .15, .15, .20, .30, .35, .30,
    .20, .15, .15, .15, .20, .20, .30, .35, .20, .15,
    .15, .15, .20, .30, .35, .35, .30, .20, .15, .15,
    .25, .20, .15, .15, .15, .15, .20, .15, .15, .15,
    .15, .15, .20, .15, .15, .15, .15, .15, .15, .15,
    .15, .20, .20, .15, .20, .25, .20, .20, .25, .25,
    .15, .15, .15, .15, .15, .15, .15, .15, .15, .15, .15]
compton_diesel = [
    .10, .10, .10, .10, .10, .10, .10, .10, .10, .10,
    .10, .10, .10, .10, .10, .10, .10, .10, .10, .10,
    .10, .10, .10, .10, .10, .10, .10, .10, .10, .10,
    .10, .10, .10, .10, .10, .10, .14, .12, .10, .10,
    .10, .10, .12, .10, .10, .10, .12, .10, .10, .10,
    .10, .10, .12, .12, .10, .10, .10, .10, .10, .10,
    .10, .10, .12, .14, .12, .10, .10, .10, .10, .10,
    .10, .10, .12, .10, .10, .12, .10, .12, .10, .10,
    .10, .10, .10, .10, .10, .10, .12, .14, .16, .14,
    .12, .10, .10, .10, .12, .12, .14, .16, .12, .10,
    .10, .10, .12, .14, .16, .16, .14, .12, .10, .10,
    .14, .12, .10, .10, .10, .10, .12, .10, .10, .10,
    .10, .10, .12, .10, .10, .10, .10, .10, .10, .10,
    .10, .12, .12, .10, .12, .14, .12, .12, .14, .14,
    .10, .10, .10, .10, .10, .10, .10, .10, .10, .10, .10]
compton_woodsmoke = [
    .02, .02, .02, .02, .02, .02, .02, .02, .02, .02,
    .02, .02, .02, .02, .02, .02, .02, .02, .02, .02,
    .02, .02, .02, .02, .02, .02, .02, .02, .02, .02,
    .02, .02, .02, .02, .02, .02, .03, .02, .02, .02,
    .02, .02, .02, .02, .02, .02, .03, .02, .02, .02,
    .02, .02, .02, .02, .02, .02, .02, .02, .02, .02,
    .03, .03, .03, .04, .03, .03, .03, .03, .03, .03,
    .03, .03, .04, .03, .04, .04, .04, .04, .04, .04,
    .04, .03, .04, .04, .04, .04, .04, .05, .06, .05,
    .04, .04, .04, .04, .05, .05, .05, .06, .05, .05,
    .05, .04, .05, .06, .07, .07, .06, .05, .04, .05,
    .06, .05, .05, .05, .05, .06, .07, .05, .05, .04,
    .05, .06, .08, .06, .05, .05, .08, .05, .05, .05,
    .06, .07, .07, .06, .08, .07, .06, .07, .07, .08,
    .05, .06, .06, .06, .05, .05, .05, .06, .06, .05, .05]

compton_obs_day = [
    0.8, 1.8, 2.6, 3.5, 4.3, 5.1, 6.0, 6.8, 7.9, 8.9,
    9.9, 10.9, 12.0, 13.0, 13.9, 15.0, 15.9, 16.8, 17.8, 18.8,
    19.8, 21.0, 22.1, 23.0, 24.1, 25.1, 26.0, 26.9, 27.9, 28.9,
    29.9, 31.1, 32.1, 33.1, 34.2, 35.2, 36.2, 37.2, 38.3, 39.3,
    40.3, 41.2, 42.1, 43.1, 44.2, 45.3, 46.2, 47.2, 48.2, 49.2,
    50.2, 51.2, 52.2, 53.3, 54.3, 55.3, 56.2, 57.2, 58.3, 59.2,
    60.3, 61.4, 62.4, 63.4, 64.4, 65.3, 66.3, 67.3, 68.3, 69.3,
    70.4, 71.4, 72.4, 73.3,
    74.4, 75.3, 76.2, 77.5, 78.5, 79.3, 80.2, 81.4, 82.3, 83.4,
    84.4, 85.2, 86.3, 87.3, 88.3, 89.3, 90.3, 91.3, 92.3, 93.3,
    94.4, 95.2, 96.3, 97.4, 98.3, 99.3, 100.4, 101.5, 102.4, 103.6,
    104.6, 105.6, 106.4, 107.3, 108.3, 109.3, 110.3, 111.3, 112.3, 113.5,
    114.6, 115.4, 116.4, 117.4, 118.4, 119.5, 120.5, 121.4, 122.3, 123.4,
    124.5, 125.5, 126.5, 127.5, 128.5, 129.3, 130.3, 131.2, 132.0, 133.0,
    134.0, 134.8, 135.7, 136.5, 137.6, 138.4, 139.4, 140.5, 141.5, 142.5,
    143.5, 144.5, 145.5, 146.6, 147.6, 148.6, 149.6, 150.6, 151.6]
compton_obs = [
    15.3, 17.6, 11.8, 11.8, 11.6, 14.3, 16.1, 19.9, 20.4, 22.9,
    24.5, 22.9, 22.0, 23.9, 21.2, 21.0, 18.0, 21.9, 23.4, 17.1,
    16.5, 14.9, 11.6, 7.3, 6.7, 8.2, 10.8, 17.1, 19.2, 22.4,
    16.6, 15.8, 18.2, 18.2, 17.1, 17.1, 15.1, 16.9, 14.9, 14.7,
    17.1, 18.2, 13.3, 9.4, 12.4, 18.7, 17.4, 14.3, 10.6, 12.9,
    16.6, 16.1, 14.3, 16.5, 15.3, 15.5, 11.9, 10.4, 14.3, 12.9,
    15.5, 17.4, 17.4, 17.6, 11.1, 8.6, 10.2, 14.1, 11.0, 11.6,
    12.5, 9.8, 17.9, 14.0,
    16.9, 19.9, 21.9, 17.6, 21.2, 16.6, 8.6, 6.3, 9.8, 9.8,
    13.5, 19.0, 25.5, 22.6, 23.5, 18.4, 17.6, 12.2, 10.2, 11.4,
    16.1, 20.0, 21.3, 22.6, 18.2, 10.8, 10.4, 10.2, 18.7, 20.0,
    25.9, 25.1, 22.7, 15.8, 16.1, 10.4, 12.5, 17.3, 17.3, 17.3,
    15.8, 17.6, 20.5, 6.3, 11.5, 15.8, 15.8, 9.6, 10.8, 11.6,
    9.8, 12.2, 12.2, 18.0, 10.8, 16.1, 14.5, 10.4, 20.5, 20.5,
    20.5, 14.3, 14.1, 15.5, 12.9, 10.8, 12.2, 9.0, 14.0, 19.4,
    19.6, 16.6, 8.6, 21.2, 25.1, 17.1, 15.5, 17.3, 19.0]

# ---------------------------------------------------------------
sites = [
    dict(name="Anaheim", nuc=anaheim_nucleation, oth=anaheim_other, ng=anaheim_natgas,
         cook=anaheim_cooking, gas=anaheim_gasoline, dsl=anaheim_diesel, wood=anaheim_woodsmoke,
         od=anaheim_obs_day, ov=anaheim_obs),
    dict(name="Central LA", nuc=centralla_nucleation, oth=centralla_other, ng=centralla_natgas,
         cook=centralla_cooking, gas=centralla_gasoline, dsl=centralla_diesel, wood=centralla_woodsmoke,
         od=centralla_obs_day, ov=centralla_obs),
    dict(name="Compton", nuc=compton_nucleation, oth=compton_other, ng=compton_natgas,
         cook=compton_cooking, gas=compton_gasoline, dsl=compton_diesel, wood=compton_woodsmoke,
         od=compton_obs_day, ov=compton_obs),
]
for s in sites:
    for k in ("nuc", "oth", "ng", "cook", "gas", "dsl", "wood"):
        if len(s[k]) != 151:
            raise ValueError(f"{s['name']} {k} has {len(s[k])} values")
    if len(s["od"]) != len(s["ov"]):
        raise ValueError(f"{s['name']} obs {len(s['od'])} vs {len(s['ov'])}")

colors = {
    "Nucleation": "#FF0000",
    "Non-residential natural gas": "#FDEDC8",
    "Woodsmoke": "#FF66FF",
    "Gasoline": "#FFFF00",
    "Other": "#4472C4",
    "Cooking": "#00B050",
    "Diesel": "#000000",
}

W, H = 925, 1124
fig = plt.figure(figsize=(W / 100, H / 100), dpi=100)


def rect(l, t, r, b):
    return [l / W, 1 - b / H, (r - l) / W, (b - t) / H]


axes_px = [(165, 25, 913, 279), (165, 302, 913, 559), (170, 586, 913, 845)]
xlims = [(0, 149.6), (0, 149.6), (-0.2, 150.8)]
label_pos = [(0.037, 0.895), (0.034, 0.89), (0.040, 0.89)]
days = np.arange(151)

for i, (s, px) in enumerate(zip(sites, axes_px)):
    ax = fig.add_axes(rect(*px))
    k = 1000.0
    ys = [np.array(s["dsl"]) * k, np.array(s["gas"]) * k, np.array(s["cook"]) * k,
          np.array(s["wood"]) * k, np.array(s["ng"]) * k, np.array(s["oth"]) * k,
          np.array(s["nuc"]) * k]
    cols = [colors["Diesel"], colors["Gasoline"], colors["Cooking"], colors["Woodsmoke"],
            colors["Non-residential natural gas"], colors["Other"], colors["Nucleation"]]
    polys = ax.stackplot(days, *ys, colors=cols, linewidth=0.4)
    for p, c in zip(polys, cols):
        p.set_edgecolor(c)
    ax.plot(s["od"], np.array(s["ov"]) * k, "o", mfc="none", mec="black", ms=7.8,
            mew=2.2, clip_on=False, zorder=5, ls="none")
    ax.set_xlim(*xlims[i])
    ax.set_ylim(0, 60000)
    ax.set_yticks([0, 20000, 40000, 60000])
    ax.set_yticklabels(["0", "20000", "40000", "60000"])
    ax.tick_params(axis="y", labelsize=18, length=7.2, width=1.6, direction="out", pad=12)
    for sp in ax.spines.values():
        sp.set_linewidth(2.0)
    if i < 2:
        ax.set_xticks([0, 30, 60, 90, 120])
        ax.set_xticklabels([])
        ax.tick_params(axis="x", length=6, width=1.6, direction="out")
    else:
        ax.set_xticks(tick_days)
        ax.set_xticklabels(tick_labels, rotation=90, fontsize=15)
        ax.tick_params(axis="x", length=6, width=1.6, direction="out", pad=3)
    ax.text(label_pos[i][0], label_pos[i][1], s["name"], transform=ax.transAxes,
            fontsize=20, va="center", ha="left")

# white strips: the panel below overlaps the "0" label of the panel above
for top, bot in [(281, 292), (562, 576)]:
    fig.patches.append(Rectangle((0, 1 - bot / H), 160 / W, (bot - top) / H,
                                 transform=fig.transFigure, facecolor="white",
                                 edgecolor="none", zorder=1))

fig.text(30 / W, 1 - 430 / H, r"Number concentration (Particles cm$^{\mathbf{-3}}$)",
         rotation=90, fontsize=17, fontweight="bold", ha="center", va="center")

# legend
fig.patches.append(Rectangle((157 / W, 1 - 1150 / H), (918 - 157) / W, (1150 - 962) / H,
                             transform=fig.transFigure, fill=False, edgecolor="black",
                             linewidth=2.2, zorder=2))
order = ["Nucleation", "Non-residential natural gas", "Woodsmoke", "Gasoline",
         "Other", "Cooking", "Diesel"]
handles = [Patch(facecolor=colors[n], edgecolor="none") for n in order]
handles.append(Line2D([], [], marker="o", ls="none", mfc="none", mec="black", ms=6, mew=1.6))
labels = order + ["Observation"]
fig.legend(handles, labels, ncol=2, frameon=False, loc="upper left",
           bbox_to_anchor=(163 / W, 1 - 984 / H), fontsize=22.5, handlelength=0.6,
           handleheight=0.6, handletextpad=0.5, columnspacing=1.4, labelspacing=0.2,
           borderpad=0, borderaxespad=0)

fig.savefig("out.png", dpi=100)
